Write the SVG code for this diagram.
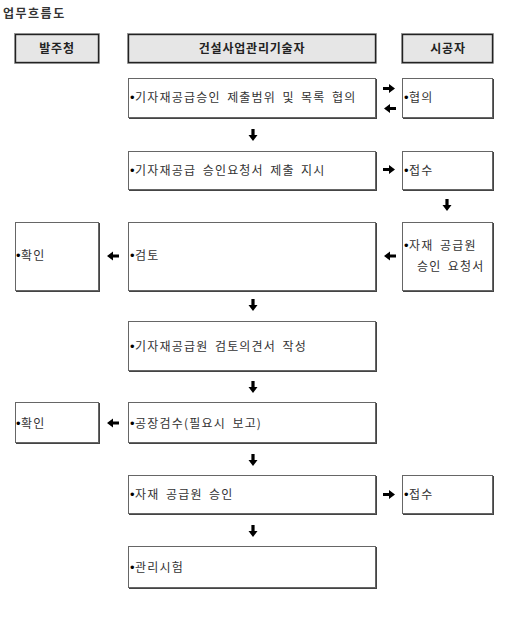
<svg xmlns="http://www.w3.org/2000/svg" width="514" height="625" viewBox="0 0 514 625">
<style>
.bg{fill:#ffffff}
.hdr rect.b{fill:#e6e6e6;stroke:#222;stroke-width:1.4}
.hdr rect.o{fill:none;stroke:#999;stroke-width:0.8}
.box rect.s{fill:#444}
.box rect.b{fill:#ffffff;stroke:#666;stroke-width:1}
.ht{font-family:"Noto Sans CJK KR",sans-serif;font-size:12px;font-weight:bold;fill:#222;text-anchor:middle;letter-spacing:0.8px}
.t{font-family:"Noto Sans CJK KR",sans-serif;font-size:12px;fill:#333;letter-spacing:1.2px;word-spacing:2.5px}
.t .d{font-family:"Liberation Sans",sans-serif;font-size:13px;fill:#000;letter-spacing:0.5px}
.title{font-family:"Noto Sans CJK KR",sans-serif;font-size:12px;font-weight:bold;fill:#333;letter-spacing:1.5px}
.arr{fill:#000}
</style>
<defs>
<path id="a" d="M-6,-1.6 L0,-1.6 L0,-4.5 L6,0 L0,4.5 L0,1.6 L-6,1.6 Z"/>
</defs>
<rect class="bg" x="0" y="0" width="514" height="625"/>
<text class="title" x="3" y="18">업무흐름도</text>

<g id="h1" class="hdr"><rect class="o" x="14.5" y="33.5" width="85" height="30"/><rect class="b" x="15.5" y="34.5" width="83" height="28"/><text class="ht" x="57" y="52.5">발주청</text></g>
<g id="h2" class="hdr"><rect class="o" x="127.5" y="33.5" width="249" height="30"/><rect class="b" x="128.5" y="34.5" width="247" height="28"/><text class="ht" x="252" y="52.5">건설사업관리기술자</text></g>
<g id="h3" class="hdr"><rect class="o" x="401.5" y="33.5" width="92" height="30"/><rect class="b" x="402.5" y="34.5" width="90" height="28"/><text class="ht" x="448" y="52.5">시공자</text></g>

<g id="n1" class="box"><rect class="s" x="129" y="79" width="248" height="40"/><rect class="b" x="128.5" y="78.5" width="247" height="39"/><text class="t" x="130" y="102"><tspan class="d">•</tspan>기자재공급승인 제출범위 및 목록 협의</text></g>
<g id="n1r" class="box"><rect class="s" x="403" y="79" width="91" height="40"/><rect class="b" x="402.5" y="78.5" width="90" height="39"/><text class="t" x="404" y="102"><tspan class="d">•</tspan>협의</text></g>

<g id="n2" class="box"><rect class="s" x="129" y="152" width="248" height="39"/><rect class="b" x="128.5" y="151.5" width="247" height="38"/><text class="t" x="130" y="174.5"><tspan class="d">•</tspan>기자재공급 승인요청서 제출 지시</text></g>
<g id="n2r" class="box"><rect class="s" x="403" y="152" width="91" height="39"/><rect class="b" x="402.5" y="151.5" width="90" height="38"/><text class="t" x="404" y="174.5"><tspan class="d">•</tspan>접수</text></g>

<g id="n3l" class="box"><rect class="s" x="16" y="223" width="84" height="69"/><rect class="b" x="15.5" y="222.5" width="83" height="68"/><text class="t" x="16" y="259.5"><tspan class="d">•</tspan>확인</text></g>
<g id="n3" class="box"><rect class="s" x="129" y="223" width="248" height="69"/><rect class="b" x="128.5" y="222.5" width="247" height="68"/><text class="t" x="130" y="259.5"><tspan class="d">•</tspan>검토</text></g>
<g id="n3r" class="box"><rect class="s" x="403" y="223" width="91" height="69"/><rect class="b" x="402.5" y="222.5" width="90" height="68"/><text class="t" x="404" y="249.5"><tspan class="d">•</tspan>자재 공급원</text><text class="t" x="417" y="270.5">승인 요청서</text></g>

<g id="n4" class="box"><rect class="s" x="129" y="322" width="248" height="50"/><rect class="b" x="128.5" y="321.5" width="247" height="49"/><text class="t" x="130" y="350.5"><tspan class="d">•</tspan>기자재공급원 검토의견서 작성</text></g>

<g id="n5l" class="box"><rect class="s" x="16" y="403" width="84" height="41"/><rect class="b" x="15.5" y="402.5" width="83" height="40"/><text class="t" x="16" y="427.5"><tspan class="d">•</tspan>확인</text></g>
<g id="n5" class="box"><rect class="s" x="129" y="403" width="248" height="41"/><rect class="b" x="128.5" y="402.5" width="247" height="40"/><text class="t" x="130" y="427.5"><tspan class="d">•</tspan>공장검수(필요시 보고)</text></g>

<g id="n6" class="box"><rect class="s" x="129" y="476" width="248" height="39"/><rect class="b" x="128.5" y="475.5" width="247" height="38"/><text class="t" x="130" y="498.5"><tspan class="d">•</tspan>자재 공급원 승인</text></g>
<g id="n6r" class="box"><rect class="s" x="403" y="476" width="91" height="39"/><rect class="b" x="402.5" y="475.5" width="90" height="38"/><text class="t" x="404" y="498.5"><tspan class="d">•</tspan>접수</text></g>

<g id="n7" class="box"><rect class="s" x="129" y="547" width="248" height="42"/><rect class="b" x="128.5" y="546.5" width="247" height="41"/><text class="t" x="130" y="571.5"><tspan class="d">•</tspan>관리시험</text></g>

<g id="connectors" class="arr">
<use href="#a" transform="translate(389,88.5)"/>
<use href="#a" transform="translate(390,108.5) rotate(180)"/>
<use href="#a" transform="translate(253,135) rotate(90)"/>
<use href="#a" transform="translate(389,169.5)"/>
<use href="#a" transform="translate(447,205) rotate(90)"/>
<use href="#a" transform="translate(390,256) rotate(180)"/>
<use href="#a" transform="translate(113,256) rotate(180)"/>
<use href="#a" transform="translate(253,305) rotate(90)"/>
<use href="#a" transform="translate(253,387) rotate(90)"/>
<use href="#a" transform="translate(113,423) rotate(180)"/>
<use href="#a" transform="translate(253,460) rotate(90)"/>
<use href="#a" transform="translate(389,494.5)"/>
<use href="#a" transform="translate(253,531) rotate(90)"/>
</g>
</svg>
